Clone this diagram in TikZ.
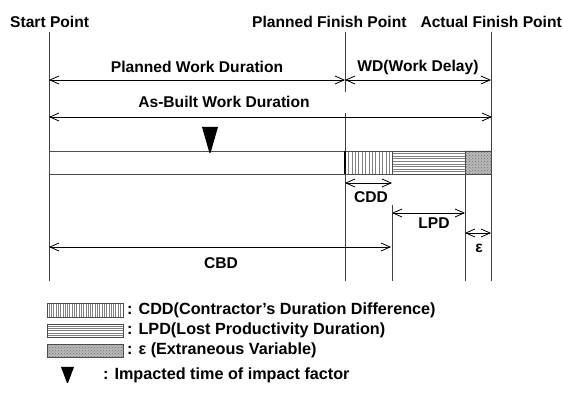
\documentclass[tikz,border=0pt]{standalone}
\usepackage{fontspec}
\setmainfont{Liberation Sans}
\usetikzlibrary{arrows.meta,patterns}
\begin{document}
\begin{tikzpicture}[x=1pt,y=-1pt,
  lbl/.style={font=\bfseries\fontsize{15.6}{18}\selectfont, inner sep=0pt},
  leg/.style={font=\bfseries\fontsize{16.2}{19}\selectfont, inner sep=0pt, anchor=west},
  vline/.style={draw=black!75, line width=0.9pt},
  dim/.style={draw=black, line width=0.8pt, {Straight Barb[length=9pt,width=8pt]}-{Straight Barb[length=9pt,width=8pt]}},
  hatch/.style={draw=black!50, line width=0.6pt},
  box/.style={draw=black!70, line width=0.9pt},
  dotbase/.style={fill=black!28},
  dotfill/.style={pattern color=black!55, pattern=crosshatch dots},
]
\useasboundingbox (0,0) rectangle (563,403);
% top labels
\node[lbl, anchor=west] (sp) at (10,22) {Start Point};
\node[lbl, anchor=west] (pfp) at (252,22) {Planned Finish Point};
\node[lbl, anchor=east] (afp) at (562,22) {Actual Finish Point};
% vertical guide lines
\coordinate (s1) at (49,32);  \coordinate (s2) at (49,281);
\coordinate (p1) at (345,32); \coordinate (p2) at (345,92);
\coordinate (p3) at (345,113); \coordinate (p4) at (345,281);
\coordinate (a1) at (491,32); \coordinate (a2) at (491,281);
\coordinate (c1) at (392,205); \coordinate (c2) at (392,281);
\coordinate (l1) at (465,174); \coordinate (l2) at (465,281);
\draw[vline] (s1) -- (s2);
\draw[vline] (p1) -- (p2);
\draw[vline] (p3) -- (p4);
\draw[vline] (a1) -- (a2);
\draw[vline] (c1) -- (c2);
\draw[vline] (l1) -- (l2);
% bar
\fill[white] (49,151) rectangle (491,174);
\foreach \x in {348.4,351.8,...,390} \draw[hatch] (\x,151) -- (\x,174);
\foreach \y in {153.6,156.2,...,172} \draw[hatch] (392,\y) -- (465,\y);
\path[dotbase] (465,151) rectangle (491,174);
\path[dotfill] (465,151) rectangle (491,174);
\draw[box] (49,151) rectangle (491,174);
\draw[black, line width=1.2pt] (345,151) -- (345,174);
\draw[box] (392,151) -- (392,174);
\draw[box] (465,151) -- (465,174);
% impact marker
\fill[black] (202,127) -- (218,127) -- (210.5,153) -- (209.5,153) -- cycle;
% dimension arrows
\coordinate (pw1) at (49,80);  \coordinate (pw2) at (345,80);
\coordinate (wd1) at (345,80); \coordinate (wd2) at (491,80);
\coordinate (ab1) at (49,117); \coordinate (ab2) at (492,117);
\coordinate (cd1) at (345,183); \coordinate (cd2) at (392,183);
\coordinate (lp1) at (392,213); \coordinate (lp2) at (465,213);
\coordinate (ep1) at (465,233); \coordinate (ep2) at (491,233);
\coordinate (cb1) at (49,247); \coordinate (cb2) at (391,247);
\draw[dim] (pw1) -- (pw2);
\draw[dim] (wd1) -- (wd2);
\draw[dim] (ab1) -- (ab2);
\draw[dim] (cd1) -- (cd2);
\draw[dim] (lp1) -- (lp2);
\draw[dim] (ep1) -- (ep2);
\draw[dim] (cb1) -- (cb2);
\node[lbl] (pwd) at (197,67) {Planned Work Duration};
\node[lbl] (wdl) at (418,67) {WD(Work Delay)};
\node[lbl] (abl) at (224,102) {As-Built Work Duration};
\node[lbl] (cddl) at (371,197) {CDD};
\node[lbl] (lpdl) at (434,223) {LPD};
\node[lbl] (epl) at (479,248) {ε};
\node[lbl] (cbdl) at (221,263) {CBD};
% legend
\foreach \x in {49,51.3,...,122} \draw[hatch, line width=0.5pt] (\x,303) -- (\x,317);
\draw[box] (47,303) rectangle (123,317);
\foreach \y in {326.2,328.4,...,336} \draw[hatch, line width=0.5pt] (47,\y) -- (123,\y);
\draw[box] (47,324) rectangle (123,337);
\path[dotbase] (47,344) rectangle (123,357);
\path[dotfill] (47,344) rectangle (123,357);
\draw[box] (47,344) rectangle (123,357);
\fill[black] (61,367) -- (74,367) -- (68,383) -- (67,383) -- cycle;
\node[leg] (lg1) at (127,310) {: CDD(Contractor’s Duration Difference)};
\node[leg] (lg2) at (127,330.5) {: LPD(Lost Productivity Duration)};
\node[leg] (lg3) at (127,350.5) {: ε (Extraneous Variable)};
\node[leg] (lg4) at (103,375) {: Impacted time of impact factor};
\end{tikzpicture}
\end{document}
